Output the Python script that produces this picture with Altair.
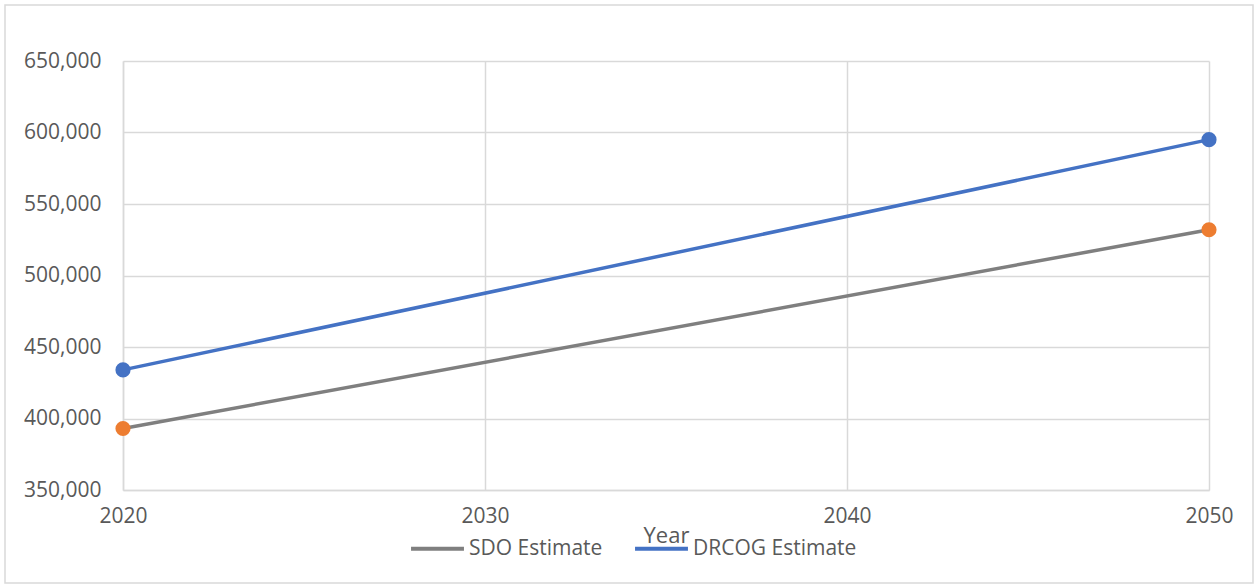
import altair as alt
import pandas as pd

years = [2020, 2050]
sdo_estimate = [393000, 532000]
drcog_estimate = [434000, 595000]
series_names = ["SDO Estimate", "DRCOG Estimate"]
line_colors = ["#7F7F7F", "#4472C4"]
marker_colors = ["#ED7D31", "#4472C4"]
x_ticks = [2020, 2030, 2040, 2050]
y_ticks = [350000, 400000, 450000, 500000, 550000, 600000, 650000]

rows = []
for name, vals, mc in zip(series_names, [sdo_estimate, drcog_estimate], marker_colors):
    for yr, v in zip(years, vals):
        rows.append({"Year": yr, "Value": v, "Series": name, "Marker": mc})
df = pd.DataFrame(rows)

FONT = "Open Sans"
GRID = "#D9D9D9"
TEXT = "#595959"
LABEL_SIZE = 21

x_enc = alt.X("Year:Q",
              scale=alt.Scale(domain=[2020, 2050], nice=False, zero=False),
              axis=alt.Axis(values=x_ticks, format="d", title="Year",
                            labelPadding=15, tickSize=0, labelFlush=False,
                            labelFontSize=LABEL_SIZE, labelColor=TEXT, labelFont=FONT,
                            titleY=52, titleBaseline="alphabetic", titleFontSize=22,
                            titleFontWeight="normal", titleColor=TEXT, titleFont=FONT))
y_enc = alt.Y("Value:Q",
              scale=alt.Scale(domain=[350000, 650000], nice=False, zero=False),
              axis=alt.Axis(values=y_ticks, format=",d", title=None,
                            labelFontSize=LABEL_SIZE, labelColor=TEXT, labelFont=FONT,
                            labelPadding=22, tickSize=0))

frame = alt.Chart(pd.DataFrame({"a": [0]})).mark_rect(
    fillOpacity=0, stroke="#D9D9D9", strokeWidth=1.5
).encode(x=alt.value(-118), x2=alt.value(1130), y=alt.value(-56), y2=alt.value(522))

lines = alt.Chart(df).mark_line(strokeWidth=3.5).encode(
    x=x_enc, y=y_enc,
    color=alt.Color("Series:N",
                    scale=alt.Scale(domain=series_names, range=line_colors),
                    sort=series_names,
                    legend=alt.Legend(title=None, orient="none", direction="horizontal",
                                      legendX=286, legendY=459, symbolType="stroke",
                                      symbolSize=2800, symbolStrokeWidth=4,
                                      labelFontSize=21, labelColor=TEXT, labelFont=FONT,
                                      labelLimit=400, columnPadding=24, labelOffset=3)),
)

points = alt.Chart(df).mark_point(filled=True, size=230, opacity=1).encode(
    x="Year:Q", y="Value:Q",
    color=alt.Color("Marker:N", scale=None, legend=None),
)

chart = alt.layer(frame, lines, points).properties(
    width=1086, height=429,
    autosize=alt.AutoSizeParams(type="none"),
    padding={"left": 123, "top": 61, "right": 49, "bottom": 98},
    background="white",
).configure_view(stroke=None).configure_axis(
    grid=True, gridColor=GRID, gridWidth=1.5, domainColor=GRID, domainWidth=1.5,
)

chart.save("out.html", embed_options={"renderer": "svg", "actions": False})
